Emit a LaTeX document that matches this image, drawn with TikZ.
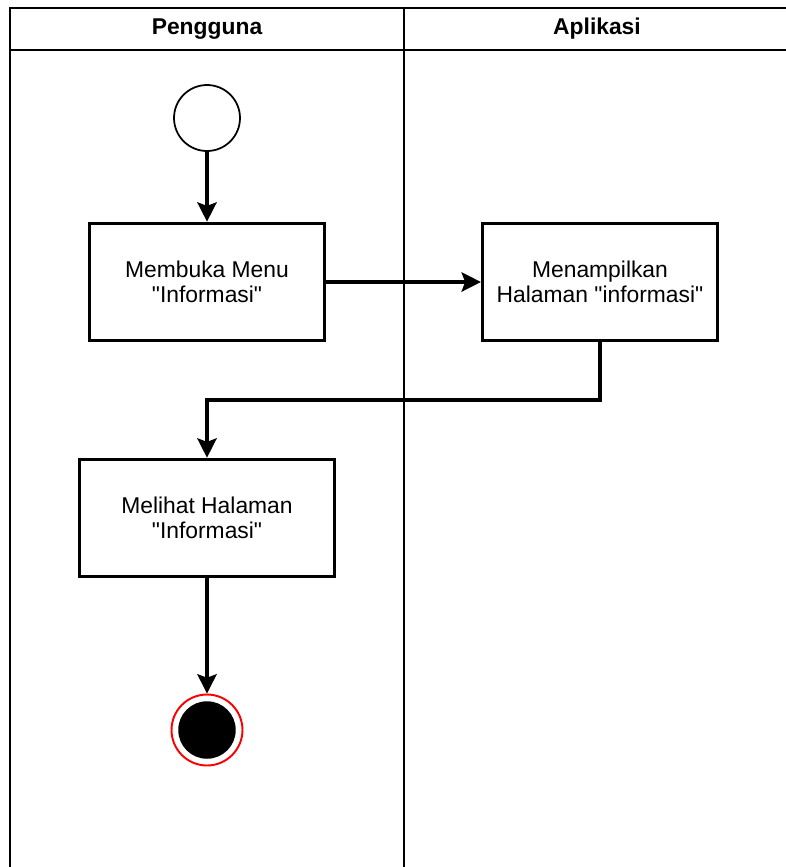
\documentclass[tikz,border=0pt]{standalone}
\usepackage{fontspec}
\setmainfont{Liberation Sans}
\usepackage{tikz}
\usetikzlibrary{arrows.meta, positioning}

\begin{document}
\begin{tikzpicture}[x=0.02cm,y=-0.02cm,
    lane/.style={draw,line width=1.1pt},
    act/.style={rectangle,draw,line width=1.8pt,minimum width=4.7cm,minimum height=2.35cm,align=center,font=\fontsize{13}{14}\selectfont},
    flow/.style={-{Stealth[length=11pt,width=11pt,inset=2pt]},line width=1.9pt}]
            \useasboundingbox (0,0) rectangle (786,867);
            \draw[lane] (10,867) -- (10,8) -- (790,8) -- (790,867);
            \draw[lane] (10,50) -- (790,50);
            \draw[lane] (404,8) -- (404,867);
            \node[font=\bfseries\fontsize{13}{14}\selectfont](h1) at (207,29) {Pengguna};
            \node[font=\bfseries\fontsize{13}{14}\selectfont](h2) at (597,29) {Aplikasi};
            \node[circle,draw,line width=1pt,minimum size=1.32cm,inner sep=0pt](start) at (207,118) {};
            \node[act](a) at (207,282) {Membuka Menu\\\textquotedbl Informasi\textquotedbl};
            \node[act](b) at (600,282) {Menampilkan\\Halaman \textquotedbl informasi\textquotedbl};
            \node[act,minimum width=5.1cm](c) at (207,518) {Melihat Halaman\\\textquotedbl Informasi\textquotedbl};
            \node[circle,draw=red,line width=1.1pt,minimum size=1.42cm,inner sep=0pt](end) at (207,730) {};
            \node[circle,fill=black,minimum size=1.15cm,inner sep=0pt](endin) at (207,730) {};
            \draw[flow] (start) -- (a);
            \draw[flow] (a) -- (b);
            \draw[flow] (b.south) -- (600,400) -- (207,400) -- (c.north);
            \draw[flow] (c) -- (end);
        \end{tikzpicture}
\end{document}
